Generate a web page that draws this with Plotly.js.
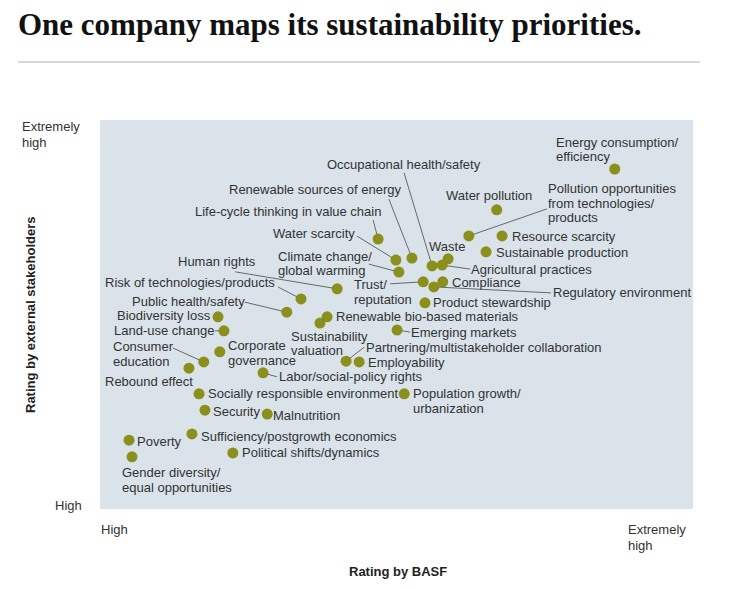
<!DOCTYPE html>
<html>
<head>
<meta charset="utf-8">
<script src="https://cdn.plot.ly/plotly-3.0.1.min.js"></script>
<style>
html,body{margin:0;padding:0;background:#ffffff;}
#chart{width:738px;height:589px;}
</style>
</head>
<body>
<div id="chart"></div>
<script>
// ---------------- DATA ----------------
// Topic names ("\n" marks a line break in the label)
const topics = [
  "Energy consumption/\nefficiency",
  "Water pollution",
  "Pollution opportunities\nfrom technologies/\nproducts",
  "Resource scarcity",
  "Sustainable production",
  "Waste",
  "Agricultural practices",
  "Occupational health/safety",
  "Renewable sources of energy",
  "Water scarcity",
  "Climate change/\nglobal warming",
  "Life-cycle thinking in value chain",
  "Trust/\nreputation",
  "Compliance",
  "Regulatory environment",
  "Product stewardship",
  "Human rights",
  "Risk of technologies/products",
  "Public health/safety",
  "Biodiversity loss",
  "Land-use change",
  "Renewable bio-based materials",
  "Sustainability\nvaluation",
  "Emerging markets",
  "Corporate\ngovernance",
  "Consumer\neducation",
  "Rebound effect",
  "Partnering/multistakeholder collaboration",
  "Employability",
  "Labor/social-policy rights",
  "Socially responsible environment",
  "Population growth/\nurbanization",
  "Security",
  "Malnutrition",
  "Poverty",
  "Sufficiency/postgrowth economics",
  "Gender diversity/\nequal opportunities",
  "Political shifts/dynamics"
];

// Rating by BASF (0 = high, 100 = extremely high)
const ratingBASF = [
  86.8, 66.9, 62.2, 67.8, 65.1, 58.7, 57.7, 56.0, 52.6, 49.9,
  50.4, 46.9, 54.5, 57.8, 56.3, 54.8, 40.0, 33.9, 31.5, 19.9,
  20.9, 38.3, 37.1, 50.1, 20.2, 17.5, 15.0, 41.5, 43.7, 27.5,
  16.7, 51.3, 17.7, 28.2, 4.9, 15.5, 5.4, 22.4
];

// Rating by external stakeholders (0 = high, 100 = extremely high)
const ratingStakeholders = [
  87.4, 76.9, 70.2, 70.2, 66.1, 64.3, 62.7, 62.5, 64.5, 64.0,
  60.9, 69.4, 58.4, 58.4, 57.1, 53.0, 56.6, 54.0, 50.6, 49.4,
  45.8, 49.4, 47.8, 46.0, 40.4, 37.8, 36.2, 38.0, 37.8, 35.0,
  29.6, 29.6, 25.4, 24.4, 17.7, 19.3, 13.4, 14.4
];

const axisLow = "High";
const axisHigh = "Extremely\nhigh";
const xTitle = "Rating by BASF";
const yTitle = "Rating by external stakeholders";
const chartTitle = "One company maps its sustainability priorities.";

// ---------------- LAYOUT HELPERS (label placement, pixels) ----------------
// offset of label's left edge / first-line centre from its dot
const labelOffset = [
  [-59,-27],[-51,-14],[79,-47],[10,1],[10,1],[-19,-12],[29,4],[-105,-101],[-183,-69],[-123,-27],
  [-121,-16],[-183,-28],[-69,3],[9,1],[119,6],[8,0],[-159,-27],[-196,-16],[-155,-11],[-101,-1],
  [-110,0],[9,0],[-29,13],[14,2],[8,-6],[-91,-15],[-84,13],[20,-14],[9,1],[16,4],
  [9,0],[9,0],[8,1],[6,1],[8,1],[9,3],[-10,16],[9,0]
];
// leader line start relative to its dot (null = no leader line)
const leaderTail = [
  null,null,[78,-27],null,null,null,[28,4],[-28,-93],[-23,-59],[-39,-24],
  [-30,-8],[-5,-19],[-33,2],null,[117,6],null,[-102,-17],[-23,-12],[-42,-10],null,
  [-9,0],null,null,[13,2],null,[-31,-14],null,[18,-14],null,[14,4],
  null,null,null,null,null,null,null,null
];

const W = 738, H = 589;
const M = {l:100, r:45, t:120, b:80};
const PW = W - M.l - M.r, PH = H - M.t - M.b;
const px2x = px => (px - M.l) / PW;
const py2y = py => (H - M.b - py) / PH;

const LH = 14.5;
const labelFont = {family:"Liberation Sans, Arial, Helvetica, sans-serif", size:13, color:"#333333"};
const boldFont = {family:"Liberation Sans, Arial, Helvetica, sans-serif", size:13, color:"#222222", weight:"bold"};

const annotations = [];

topics.forEach((t, i) => {
  const lines = t.split("\n");
  const [dx, dy] = labelOffset[i];
  lines.forEach((ln, k) => {
    annotations.push({
      x: ratingBASF[i], y: ratingStakeholders[i], xref:"x", yref:"y",
      text: ln, showarrow:false, xanchor:"left", yanchor:"middle",
      xshift: dx, yshift: -(dy + k * LH),
      font: labelFont, borderpad:0, borderwidth:0
    });
  });
  if (leaderTail[i]) {
    annotations.push({
      x: ratingBASF[i], y: ratingStakeholders[i], xref:"x", yref:"y",
      text:"", showarrow:true, arrowhead:0, arrowwidth:0.8, arrowcolor:"#4a4a4a",
      ax: leaderTail[i][0], ay: leaderTail[i][1], axref:"pixel", ayref:"pixel",
      standoff:5, borderpad:0, borderwidth:0
    });
  }
});

function paperText(text, pxLeft, pyCenter, font, extra) {
  text.split("\n").forEach((ln, k) => {
    annotations.push(Object.assign({
      xref:"paper", yref:"paper", x: px2x(pxLeft), y: py2y(pyCenter + k * 16),
      text: ln, showarrow:false, xanchor:"left", yanchor:"middle",
      font: font, borderpad:0, borderwidth:0
    }, extra || {}));
  });
}

// axis end labels
paperText(axisHigh, 22, 126, labelFont);
paperText(axisLow, 55, 505, labelFont);
paperText(axisLow, 101, 529, labelFont);
paperText(axisHigh, 628, 529, labelFont);

// axis titles
annotations.push({xref:"paper", yref:"paper", x: px2x(398), y: py2y(571), text: xTitle,
  showarrow:false, xanchor:"center", yanchor:"middle", font: boldFont});
annotations.push({xref:"paper", yref:"paper", x: px2x(30), y: py2y(315), text: yTitle,
  showarrow:false, xanchor:"center", yanchor:"middle", textangle:-90, font: boldFont});

const trace = {
  type:"scatter", mode:"markers",
  x: ratingBASF, y: ratingStakeholders, text: topics.map(t => t.replace(/\n/g, " ")),
  hoverinfo:"text",
  marker:{size:11, color:"#8b8f1c", line:{width:0}}
};

const layout = {
  width: W, height: H,
  margin: M,
  paper_bgcolor:"#ffffff",
  plot_bgcolor:"#d9e3e9",
  showlegend:false,
  title:{
    text: chartTitle,
    font:{family:"Liberation Serif, Times New Roman, serif", size:31, color:"#111111", weight:"bold"},
    xref:"container", yref:"container", x: 18 / W, xanchor:"left", y: 1 - 24 / H, yanchor:"middle"
  },
  xaxis:{range:[0,100], showgrid:false, zeroline:false, showticklabels:false, ticks:"", showline:false, fixedrange:true},
  yaxis:{range:[0,100], showgrid:false, zeroline:false, showticklabels:false, ticks:"", showline:false, fixedrange:true},
  shapes:[{type:"line", xref:"paper", yref:"paper", x0: px2x(18), x1: px2x(700), y0: py2y(62), y1: py2y(62),
    line:{color:"#b0b0b0", width:1}}],
  annotations: annotations
};

Plotly.newPlot("chart", [trace], layout, {displayModeBar:false, staticPlot:true});
</script>
</body>
</html>
